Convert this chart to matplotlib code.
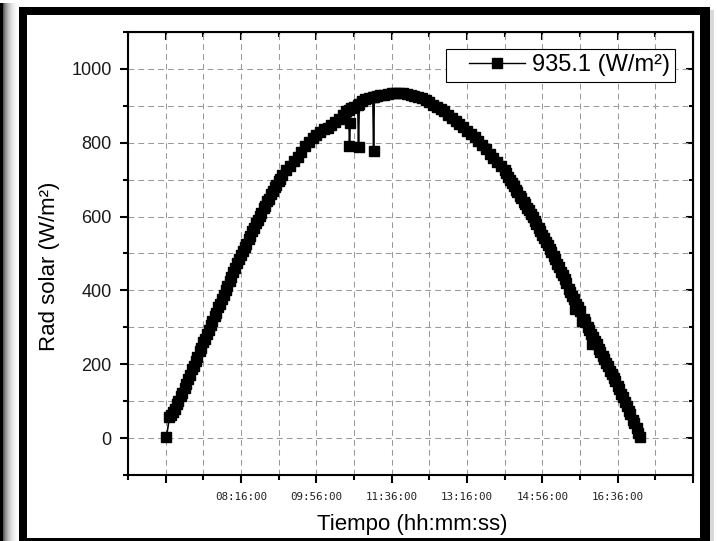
import matplotlib.pyplot as plt
from matplotlib.patches import Rectangle
from matplotlib.legend_handler import HandlerLine2D

plt.rcParams['font.family'] = ['Liberation Sans', 'DejaVu Sans']

# lecturas de radiacion solar (hora local, W/m2)
hora = ['06:37', '06:41', '06:43', '06:46', '06:48', '06:51', '06:53', '06:56', '06:58', '07:01',
        '07:03', '07:06', '07:08', '07:11', '07:13', '07:16', '07:18', '07:21', '07:23', '07:26',
        '07:28', '07:31', '07:33', '07:36', '07:38', '07:41', '07:43', '07:46', '07:48', '07:51',
        '07:53', '07:56', '07:58', '08:01', '08:03', '08:06', '08:08', '08:11', '08:13', '08:16',
        '08:18', '08:21', '08:23', '08:26', '08:28', '08:31', '08:33', '08:36', '08:38', '08:41',
        '08:43', '08:46', '08:48', '08:51', '08:53', '08:56', '08:58', '09:01', '09:03', '09:06',
        '09:08', '09:11', '09:16', '09:21', '09:26', '09:31', '09:36', '09:41', '09:46', '09:51',
        '09:56', '10:01', '10:06', '10:11', '10:16', '10:21', '10:26', '10:31', '10:36', '10:39',
        '10:40', '10:41', '10:42', '10:46', '10:51', '10:52', '10:53', '10:56', '11:01', '11:06',
        '11:11', '11:12', '11:13', '11:16', '11:21', '11:26', '11:31', '11:36', '11:41', '11:46',
        '11:51', '11:56', '12:01', '12:06', '12:11', '12:16', '12:21', '12:26', '12:31', '12:36',
        '12:41', '12:46', '12:51', '12:56', '13:01', '13:06', '13:11', '13:16', '13:21', '13:26',
        '13:31', '13:36', '13:41', '13:46', '13:51', '13:56', '14:01', '14:06', '14:08', '14:11',
        '14:13', '14:16', '14:18', '14:21', '14:23', '14:26', '14:28', '14:31', '14:33', '14:36',
        '14:38', '14:41', '14:43', '14:46', '14:48', '14:51', '14:53', '14:56', '14:58', '15:01',
        '15:03', '15:06', '15:08', '15:11', '15:13', '15:16', '15:18', '15:21', '15:23', '15:26',
        '15:28', '15:31', '15:33', '15:36', '15:38', '15:39', '15:41', '15:43', '15:46', '15:48',
        '15:51', '15:53', '15:56', '15:58', '16:01', '16:02', '16:03', '16:06', '16:08', '16:11',
        '16:13', '16:16', '16:18', '16:21', '16:23', '16:26', '16:28', '16:31', '16:33', '16:36',
        '16:38', '16:41', '16:43', '16:46', '16:48', '16:51', '16:53', '16:56', '16:58', '17:01',
        '17:03', '17:05']
rad = [3, 56, 62, 72, 80, 92, 100, 113, 122, 137,
       146, 161, 171, 186, 196, 210, 220, 235, 245, 259,
       268, 282, 292, 305, 316, 330, 340, 354, 364, 378,
       388, 402, 412, 426, 436, 450, 460, 474, 484, 497,
       506, 518, 527, 539, 548, 560, 569, 582, 590, 602,
       610, 622, 629, 641, 648, 660, 668, 679, 686, 697,
       703, 712, 726, 738, 750, 762, 775, 790, 802, 812,
       821, 829, 836, 841, 847, 855, 864, 875, 886, 890,
       791, 854, 893, 897, 903, 788, 906, 912, 918, 922,
       924, 777, 925, 926, 928, 930, 932, 934, 935.1, 935,
       934, 932, 930, 927, 924, 920, 915, 910, 903, 897,
       891, 885, 876, 867, 860, 852, 842, 833, 825, 815,
       804, 793, 782, 770, 758, 747, 736, 725, 718, 707,
       700, 690, 683, 673, 667, 657, 650, 640, 633, 623,
       617, 607, 600, 589, 581, 570, 562, 550, 543, 532,
       524, 512, 504, 492, 484, 472, 464, 451, 443, 430,
       420, 405, 397, 385, 376, 350, 364, 356, 344, 318,
       323, 315, 302, 294, 282, 255, 274, 262, 254, 242,
       234, 222, 214, 203, 195, 183, 174, 162, 154, 142,
       133, 120, 111, 98, 88, 74, 64, 50, 40, 26,
       15, 3]

ticks_major = ['06:36', '08:16', '09:56', '11:36', '13:16', '14:56', '16:36', '18:16']
ticks_minor = ['05:46', '07:26', '09:06', '10:46', '12:26', '14:06', '15:46', '17:26']


def minutos(t):
    h, m = t.split(':')
    return int(h) * 60 + int(m)


x = [minutos(t) for t in hora]
xmaj = [minutos(t) for t in ticks_major]
xmin = [minutos(t) for t in ticks_minor]
xlabels = [t + ':00' for t in ticks_major]
xlabels[0] = ''
xlabels[-1] = ''

W, H = 717, 541
fig = plt.figure(figsize=(W / 100, H / 100), dpi=100)
ax = fig.add_axes([128 / W, 1 - 475 / H, 565 / W, 443 / H])

linea, = ax.plot(x, rad, color='k', lw=1.2, marker='s', ms=6.6, mfc='k', mec='k', label='935.1 (W/m²)')

ax.set_xlim(minutos('05:46'), minutos('18:16'))
ax.set_ylim(-100, 1100)
ax.set_xticks(xmaj)
ax.set_xticklabels(xlabels, family='DejaVu Sans Mono', fontsize=7.8, color='#222222')
ax.set_xticks(xmin, minor=True)
ax.set_yticks(range(0, 1001, 200))
ax.set_yticks(range(-100, 1101, 200), minor=True)
ax.tick_params(axis='y', labelsize=13, labelcolor='#1a1a1a', pad=5.8)
ax.tick_params(axis='x', pad=6.5)
ax.tick_params(which='major', direction='out', length=6, width=1.5)
ax.tick_params(which='minor', direction='out', length=3.5, width=1.5)
for s in ax.spines.values():
    s.set_linewidth(1.5)

ax.grid(which='both', color='#999999', lw=0.75, linestyle=(0, (5.5, 4)))
ax.set_axisbelow(True)

# ticks hacia adentro arriba y a la derecha
top = ax.secondary_xaxis('top')
top.set_xticks(xmaj)
top.set_xticks(xmin, minor=True)
top.tick_params(which='major', direction='in', length=6, width=1.5, labeltop=False)
top.tick_params(which='minor', direction='in', length=3.5, width=1.5)
right = ax.secondary_yaxis('right')
right.set_yticks(range(0, 1001, 200))
right.set_yticks(range(-100, 1101, 200), minor=True)
right.tick_params(which='major', direction='in', length=5, width=1.5, labelright=False)
right.tick_params(which='minor', direction='in', length=3, width=1.5)

ax.set_xlabel('Tiempo (hh:mm:ss)', fontsize=16)
ax.xaxis.set_label_coords(0.503, -0.088)
ax.set_ylabel('Rad solar (W/m²)', fontsize=16)
ax.yaxis.set_label_coords(-0.12, 0.472)

leg = ax.legend(loc='upper right', bbox_to_anchor=(0.968, 0.961), borderaxespad=0,
                fancybox=False, edgecolor='k', framealpha=1, handlelength=3.1,
                handletextpad=0.3, borderpad=0.22, fontsize=17,
                handler_map={linea: HandlerLine2D(xpad=0.75)})
leg.get_frame().set_linewidth(0.8)
leg.get_lines()[0].set_linewidth(1)
leg.get_lines()[0].set_markersize(7)


# marco negro de la captura
def caja(x0, y0, x1, y1, c):
    fig.add_artist(Rectangle((x0 / W, 1 - y1 / H), (x1 - x0) / W, (y1 - y0) / H,
                             transform=fig.transFigure, color=c, lw=0))


caja(0, 3, 3, 541, 'k')
grises = [0.35, 0.45, 0.55, 0.62, 0.68, 0.74, 0.79, 0.83, 0.87, 0.9, 0.93, 0.95, 0.97, 0.98, 0.99]
for i, g in enumerate(grises):
    caja(3 + i, 3, 4 + i, 541, str(g))
caja(710, 10, 714, 541, '0.85')
caja(19, 7, 27, 541, 'k')
caja(19, 7, 710, 15, 'k')
caja(700, 7, 710, 541, 'k')
caja(19, 538, 710, 541, 'k')

plt.savefig('out.png', dpi=100)
